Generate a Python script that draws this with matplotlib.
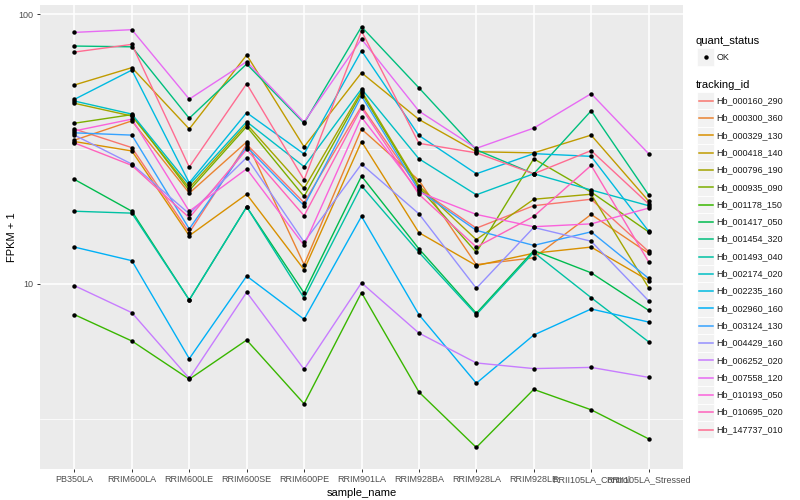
import matplotlib
matplotlib.use("Agg")
import matplotlib.pyplot as plt
from matplotlib.patches import Rectangle
from matplotlib.lines import Line2D
from matplotlib.ticker import NullFormatter, FixedLocator

plt.rcParams['font.family'] = ['Liberation Sans', 'DejaVu Sans']

samples = ["PB350LA", "RRIM600LA", "RRIM600LE", "RRIM600SE", "RRIM600PE", "RRIM901LA",
           "RRIM928BA", "RRIM928LA", "RRIM928LE", "RRII105LA_Control", "RRII105LA_Stressed"]

tracking_ids = ["Hb_000160_290", "Hb_000300_360", "Hb_000329_130", "Hb_000418_140",
                "Hb_000796_190", "Hb_000935_090", "Hb_001178_150", "Hb_001417_050",
                "Hb_001454_320", "Hb_001493_040", "Hb_002174_020", "Hb_002235_160",
                "Hb_002960_160", "Hb_003124_130", "Hb_004429_160", "Hb_006252_020",
                "Hb_007558_120", "Hb_010193_050", "Hb_010695_020", "Hb_147737_010"]

colors = ["#F8766D", "#EA8331", "#D89000", "#C09B00", "#A3A500", "#7CAE00", "#39B600",
          "#00BB4E", "#00BF7D", "#00C1A3", "#00BFC4", "#00BAE0", "#00B0F6", "#35A2FF",
          "#9590FF", "#C77CFF", "#E76BF3", "#FA62DB", "#FF62BC", "#FF6C91"]

# FPKM + 1 values per tracking_id, in sample order
Hb_000160_290 = [37.5, 32.0, 15.5, 32.9, 20.0, 45.6, 22.5, 16.1, 19.5, 20.6, 13.2]
Hb_000300_360 = [34.1, 40.2, 21.7, 33.6, 11.8, 37.5, 24.2, 11.8, 12.5, 18.1, 13.0]
Hb_000329_130 = [33.7, 31.1, 15.1, 21.5, 11.3, 33.7, 15.5, 11.7, 13.0, 13.7, 10.3]
Hb_000418_140 = [54.6, 63.3, 37.5, 70.5, 32.2, 60.6, 40.7, 30.9, 30.6, 35.6, 20.3]
Hb_000796_190 = [46.7, 41.9, 22.7, 39.1, 22.6, 51.9, 23.1, 14.6, 20.6, 21.5, 9.7]
Hb_000935_090 = [39.4, 42.4, 22.2, 38.3, 21.1, 51.0, 22.8, 13.1, 29.1, 21.9, 15.6]
Hb_001178_150 = [7.70, 6.15, 4.44, 6.20, 3.60, 9.29, 3.98, 2.48, 4.07, 3.42, 2.67]
Hb_001417_050 = [24.4, 18.6, 8.73, 19.3, 9.26, 25.1, 13.5, 7.79, 13.3, 11.0, 7.99]
Hb_001454_320 = [76.1, 75.6, 41.1, 65.3, 39.4, 89.7, 53.3, 31.4, 25.6, 43.8, 21.4]
Hb_001493_040 = [18.6, 18.3, 8.73, 19.3, 8.87, 23.1, 13.1, 7.70, 13.1, 8.90, 6.11]
Hb_002174_020 = [47.6, 42.6, 23.3, 39.9, 27.2, 52.8, 29.1, 21.4, 25.6, 22.3, 19.5]
Hb_002235_160 = [48.3, 62.0, 23.7, 43.1, 30.3, 73.1, 35.5, 25.6, 30.4, 29.7, 15.7]
Hb_002960_160 = [13.7, 12.2, 5.29, 10.7, 7.40, 17.8, 7.70, 4.29, 6.47, 8.08, 7.23]
Hb_003124_130 = [36.3, 35.6, 16.0, 32.2, 19.5, 49.7, 22.2, 15.8, 13.9, 15.6, 10.5]
Hb_004429_160 = [35.6, 27.8, 18.2, 29.4, 14.3, 27.8, 18.2, 9.64, 16.2, 14.4, 8.67]
Hb_006252_020 = [9.86, 7.83, 4.47, 9.32, 4.83, 10.1, 6.58, 5.10, 4.86, 4.91, 4.51]
Hb_007558_120 = [85.5, 87.5, 48.4, 66.6, 39.8, 80.8, 43.7, 31.8, 37.8, 50.7, 30.4]
Hb_010193_050 = [36.9, 40.8, 18.6, 26.7, 13.9, 41.5, 21.9, 18.1, 16.3, 16.7, 19.1]
Hb_010695_020 = [33.3, 27.5, 17.6, 31.5, 17.9, 44.9, 21.5, 13.7, 17.8, 27.5, 12.1]
Hb_147737_010 = [72.3, 77.2, 27.1, 55.2, 24.3, 86.5, 33.2, 30.6, 25.6, 31.2, 19.8]

series = [Hb_000160_290, Hb_000300_360, Hb_000329_130, Hb_000418_140, Hb_000796_190,
          Hb_000935_090, Hb_001178_150, Hb_001417_050, Hb_001454_320, Hb_001493_040,
          Hb_002174_020, Hb_002235_160, Hb_002960_160, Hb_003124_130, Hb_004429_160,
          Hb_006252_020, Hb_007558_120, Hb_010193_050, Hb_010695_020, Hb_147737_010]

W, H = 800, 500
fig = plt.figure(figsize=(8, 5), dpi=100)
fig.patch.set_facecolor("white")

px_l, px_r, px_t, px_b = 40, 683, 5, 469
ax = fig.add_axes([px_l / W, 1 - px_b / H, (px_r - px_l) / W, (px_b - px_t) / H])
ax.set_facecolor("#EBEBEB")
ax.set_yscale("log")

x = list(range(len(samples)))
for vals, col in zip(series, colors):
    ax.plot(x, vals, color=col, lw=1.0, zorder=2, solid_joinstyle="round")
for vals in series:
    ax.plot(x, vals, "o", color="black", ms=3.2, mew=0, zorder=3)

ax.set_xlim(-0.6, len(samples) - 1 + 0.6)
ax.set_ylim(2.064, 108)

ax.yaxis.set_major_locator(FixedLocator([10, 100]))
ax.yaxis.set_minor_locator(FixedLocator([10 ** 0.5, 10 ** 1.5]))
ax.yaxis.set_minor_formatter(NullFormatter())
ax.set_yticklabels(["10", "100"])
ax.set_xticks(x)
ax.set_xticklabels(samples)

ax.grid(which="major", color="white", lw=1.1, zorder=0)
ax.grid(which="minor", axis="y", color="white", lw=0.55, zorder=0)
ax.set_axisbelow(True)
for s in ax.spines.values():
    s.set_visible(False)
ax.tick_params(which="major", length=2.5, width=0.7, color="#333333",
               labelsize=6.5, labelcolor="#4D4D4D", pad=2)
ax.tick_params(which="minor", length=0)

ax.set_xlabel("sample_name", fontsize=8, color="black", labelpad=3)
ax.set_ylabel("FPKM + 1", fontsize=8, color="black", labelpad=1)


def fx(px):
    return px / W


def fy(py):
    return 1 - py / H


# legend: quant_status
fig.text(fx(696), fy(41), "quant_status", fontsize=8, va="center", ha="left")
fig.patches.append(Rectangle((fx(697), fy(65.5)), 17 / W, 17 / H, transform=fig.transFigure,
                             facecolor="#F2F2F2", edgecolor="white", lw=0.5))
fig.lines.append(Line2D([fx(705.5)], [fy(57)], marker="o", color="black", ms=3.2, mew=0,
                        transform=fig.transFigure))
fig.text(fx(716.5), fy(57), "OK", fontsize=6.5, va="center", ha="left", color="#1A1A1A")

# legend: tracking_id
fig.text(fx(696), fy(84.5), "tracking_id", fontsize=8, va="center", ha="left")
step = 17.3
for i, (tid, col) in enumerate(zip(tracking_ids, colors)):
    cy = 100.8 + i * step
    fig.patches.append(Rectangle((fx(697), fy(cy + step / 2)), 17 / W, step / H,
                                 transform=fig.transFigure, facecolor="#F2F2F2",
                                 edgecolor="white", lw=0.6))
    fig.lines.append(Line2D([fx(698.5), fx(712.5)], [fy(cy), fy(cy)], color=col, lw=1.1,
                            transform=fig.transFigure))
    fig.text(fx(716.5), fy(cy), tid, fontsize=6.5, va="center", ha="left", color="#1A1A1A")

fig.savefig("out.png", dpi=100)
